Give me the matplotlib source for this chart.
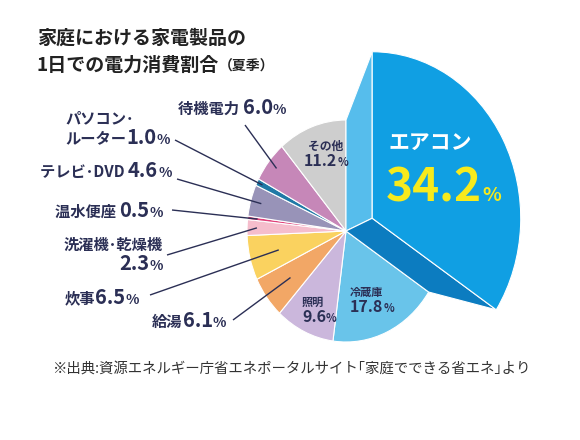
import matplotlib
matplotlib.use("Agg")
import matplotlib.pyplot as plt
import numpy as np
from matplotlib.patches import Polygon
from matplotlib.offsetbox import TextArea, HPacker, VPacker, AnnotationBbox

plt.rcParams['font.family'] = ['Noto Sans CJK JP', 'DejaVu Sans']

# data (clockwise from 12 o'clock)
categories = ["エアコン", "冷蔵庫", "照明", "給湯", "炊事", "洗濯機・乾燥機",
              "温水便座", "テレビ・DVD", "パソコン・ルーター", "待機電力", "その他"]
shares = [34.2, 17.8, 9.6, 6.1, 6.5, 2.3, 0.5, 4.6, 1.0, 6.0, 11.2]
colors = ["#109fe3", "#69c4ea", "#cbb7dc", "#f2a766", "#fad25f", "#f5bdcc",
          "#df4079", "#9893b8", "#2079a6", "#c687b8", "#cecece"]

title_1 = "家庭における家電製品の"
title_2 = "1日での電力消費割合"
title_season = "（夏季）"
source = "※出典:資源エネルギー庁省エネポータルサイト｢家庭でできる省エネ｣より"

NAVY = "#2b2f55"
W, H = 580, 440
CX, CY = 346, 231      # pie centre in image pixels
SX, SY = 99, 111       # pixels per data unit (pie is a little squashed)


def px(x, y):
    # image pixel -> data coords
    return (x - CX) / SX, (CY - y) / SY


fig = plt.figure(figsize=(5.8, 4.4), dpi=100)
fig.patch.set_facecolor("white")
ax = fig.add_axes([0, 0, 1, 1])
wedges, _ = ax.pie(shares, colors=colors, startangle=90, counterclock=False,
                   wedgeprops=dict(edgecolor="white", linewidth=0.8))
ax.set_aspect("auto")
ax.set_xlim(-CX / SX, (W - CX) / SX)
ax.set_ylim(-(H - CY) / SY, CY / SY)
ax.axis("off")

# pull the air-con slice out and give it two "3D" side faces
ac = wedges[0]
shift = np.array([0.265, 0.115])
scale = 1.5
for ang, col in [(ac.theta2, "#56bdec"), (ac.theta1, "#0c7cc0")]:
    u = np.array([np.cos(np.radians(ang)), np.sin(np.radians(ang))])
    ax.add_patch(Polygon([(0, 0), u, shift + scale * u, shift], closed=True,
                         facecolor=col, edgecolor="white", linewidth=0.8, zorder=2))
ac.set_center(tuple(shift))
ac.set_radius(scale)
ac.set_zorder(3)


def tarea(s, size, color=NAVY, weight="bold"):
    # narrow middle dot like the original artwork
    s = s.replace("・", "･")
    return TextArea(s, textprops=dict(fontsize=size, color=color, fontweight=weight))


def put(box, x, y, align):
    ab = AnnotationBbox(box, (x, H - y), xycoords="figure pixels",
                        box_alignment=align, frameon=False, pad=0, zorder=5)
    ax.add_artist(ab)


def value_parts(v, nsize=14.5, psize=10, color=NAVY):
    return [tarea(f"{v:.1f}", nsize, color), tarea("%", psize, color)]


# outside labels: index, name lines, anchor px, box alignment, line start px, radius
outside = [
    (9, ["待機電力 "], (178, 107), (0, 0.5), (245, 125), 0.9),
    (8, ["パソコン・", "ルーター"], (65, 129), (0, 0.5), (175, 140), 0.94),
    (7, ["テレビ・DVD "], (40, 170), (0, 0.5), (177, 179), 0.89),
    (6, ["温水便座 "], (55, 210), (0, 0.5), (172, 210), 0.9),
    (5, ["洗濯機・乾燥機", ""], (163, 255), (1, 0.5), (167, 255), 0.9),
    (4, ["炊事"], (65, 297), (0, 0.5), (150, 295), 0.7),
    (3, ["給湯"], (152, 320), (0, 0.5), (233, 320), 0.7),
]

for i, lines, pos, align, start, r in outside:
    rows = []
    for j, name in enumerate(lines):
        kids = [tarea(name, 11)] if name else []
        if j == len(lines) - 1:
            kids += value_parts(shares[i])
        rows.append(HPacker(children=kids, align="baseline", pad=0, sep=0))
    box = rows[0] if len(rows) == 1 else VPacker(
        children=rows, align="left" if align[0] == 0 else "right", pad=0, sep=0)
    put(box, pos[0], pos[1], align)
    w = wedges[i]
    mid = np.radians((w.theta1 + w.theta2) / 2)
    x0, y0 = px(*start)
    ax.plot([x0, r * np.cos(mid)], [y0, r * np.sin(mid)], color=NAVY,
            linewidth=1.0, solid_capstyle="butt", zorder=4)

# labels inside the pie
inside = [
    (10, (326, 154), (0.5, 0.5), 8.5),
    (1, (350, 300), (0, 0.5), 8),
    (2, (302, 310), (0, 0.5), 8),
]
for i, pos, align, nsize in inside:
    rows = [HPacker(children=[tarea(categories[i], nsize)], pad=0, sep=0),
            HPacker(children=value_parts(shares[i], 11.5, 8), align="baseline", pad=0, sep=0)]
    put(VPacker(children=rows, align="left" if align[0] == 0 else "center", pad=0, sep=0),
        pos[0], pos[1], align)

put(HPacker(children=[tarea(categories[0], 15, "white", "bold")], pad=0, sep=0),
    388, 142, (0, 0.5))
put(HPacker(children=[tarea(f"{shares[0]:.1f}", 33, "#f7ea1c", "bold"),
                      tarea("%", 14, "#f7ea1c", "bold")], align="baseline", pad=0, sep=0),
    386, 188, (0, 0.5))

# title and source
put(tarea(title_1, 13.7, "#222222", "bold"), 37, 38, (0, 0.5))
put(HPacker(children=[tarea(title_2, 13.7, "#222222", "bold"),
                      tarea(title_season, 10, "#222222", "bold")], align="baseline", pad=0, sep=0),
    37, 65, (0, 0.5))
put(tarea(source, 10.4, "#333333", "normal"), 52, 369, (0, 0.5))

fig.savefig("out.png", dpi=100, facecolor="white")
